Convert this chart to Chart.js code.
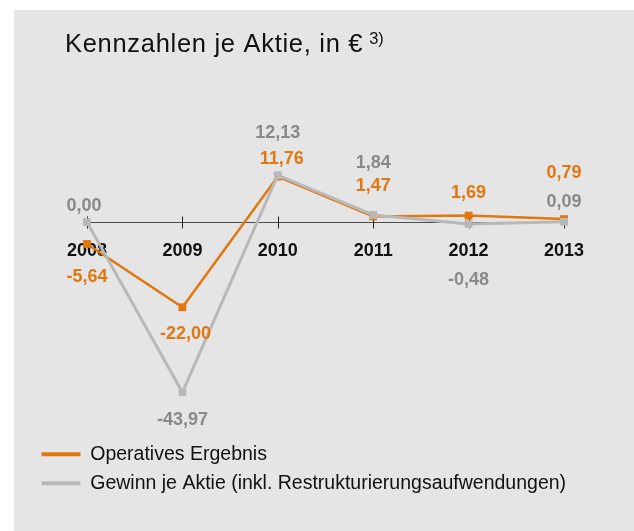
<!DOCTYPE html>
<html lang="de">
<head>
<meta charset="utf-8">
<title>Kennzahlen je Aktie</title>
<script src="https://cdn.jsdelivr.net/npm/chart.js@4.4.1/dist/chart.umd.min.js"></script>
<style>
    html, body { margin: 0; padding: 0; background: #fff; }
    #panel { position: absolute; left: 14px; top: 10px; width: 620px; height: 521px; background: #e5e5e5; }
</style>
</head>
<body>
<div id="panel"><canvas id="kennzahlen"></canvas></div>
<script>
    "use strict";
    const years = ["2008", "2009", "2010", "2011", "2012", "2013"];
    const operativesErgebnis = [-5.64, -22.00, 11.76, 1.47, 1.69, 0.79];
    const gewinnJeAktie = [0.00, -43.97, 12.13, 1.84, -0.48, 0.09];
    const seriesNames = ["Operatives Ergebnis", "Gewinn je Aktie (inkl. Restrukturierungsaufwendungen)"];

    const orange = "#e3770f";
    const grey = "#b8b8b8";
    const font = "'Liberation Sans', Arial, Helvetica, sans-serif";

    // label placement relative to the point (px), per series and year
    const labelOffsets = [
        [[0, 33], [3, 27], [4, -18], [0, -30], [0, -23], [0, -46]],
        [[-3, -16], [0, 28], [0, -42], [0, -52], [0, 56], [0, -20]]
    ];

    const fmt = v => v.toFixed(2).replace(".", ",");

    const zeroAxis = {
        id: "zeroAxis",
        beforeDatasetsDraw(chart) {
            let { ctx, scales: { x, y } } = chart;
            let y0 = Math.round(y.getPixelForValue(0)) + .5;
            ctx.save();
            ctx.strokeStyle = "#4a4a4a";
            ctx.lineWidth = 1.2;
            ctx.beginPath();
            ctx.moveTo(x.getPixelForValue(0), y0);
            ctx.lineTo(x.getPixelForValue(years.length - 1), y0);
            ctx.stroke();
            ctx.lineWidth = 1;
            ctx.strokeStyle = "#222";
            years.forEach((_, i) => {
                let px = Math.round(x.getPixelForValue(i)) + .5;
                ctx.beginPath();
                ctx.moveTo(px, y0 - 6);
                ctx.lineTo(px, y0 + 6);
                ctx.stroke();
            });
            ctx.restore();
        }
    };

    const valueLabels = {
        id: "valueLabels",
        afterDatasetsDraw(chart) {
            let ctx = chart.ctx;
            ctx.save();
            ctx.font = "bold 18px " + font;
            ctx.textAlign = "center";
            ctx.textBaseline = "middle";
            chart.data.datasets.forEach((ds, d) => {
                ctx.fillStyle = ds.labelColor;
                chart.getDatasetMeta(d).data.forEach((pt, i) => {
                    let [dx, dy] = labelOffsets[d][i];
                    ctx.fillText(fmt(ds.data[i]), pt.x + dx, pt.y + dy);
                });
            });
            ctx.restore();
        }
    };

    const titleText = {
        id: "titleText",
        afterDraw(chart) {
            let ctx = chart.ctx;
            ctx.save();
            ctx.fillStyle = "#111";
            ctx.textBaseline = "alphabetic";
            ctx.font = "25.5px " + font;
            ctx.letterSpacing = "0.7px";
            let main = "Kennzahlen je Aktie, in €";
            ctx.fillText(main, 51, 42);
            let w = ctx.measureText(main).width;
            ctx.font = "16.5px " + font;
            ctx.letterSpacing = "0px";
            ctx.fillText("3)", 51 + w + 6, 34);
            ctx.restore();
        }
    };

    new Chart(document.getElementById("kennzahlen"), {
        type: "line",
        data: {
            labels: years,
            datasets: [{
                label: seriesNames[0],
                data: operativesErgebnis,
                borderColor: orange,
                backgroundColor: orange,
                labelColor: orange,
                borderWidth: 2.5,
                pointStyle: "rect",
                pointRadius: 5.5,
                pointBorderWidth: 0,
                order: 2
            }, {
                label: seriesNames[1],
                data: gewinnJeAktie,
                borderColor: grey,
                backgroundColor: grey,
                labelColor: "#898989",
                borderWidth: 3,
                pointStyle: "rect",
                pointRadius: 5.5,
                pointBorderWidth: 0,
                order: 1
            }]
        },
        options: {
            responsive: true,
            maintainAspectRatio: false,
            animation: false,
            events: [],
            clip: false,
            layout: { padding: { top: 96, left: 18, right: 10, bottom: 28 } },
            scales: {
                x: {
                    position: { y: 0 },
                    z: 1,
                    grid: { display: false, drawTicks: false },
                    border: { display: false },
                    ticks: {
                        color: "#111",
                        font: { family: font, size: 18, weight: "bold" },
                        padding: 18,
                        maxRotation: 0,
                        autoSkip: false
                    }
                },
                y: {
                    min: -55,
                    max: 30,
                    grid: { display: false },
                    border: { display: false },
                    ticks: { display: false },
                    afterFit: scale => { scale.width = 55; }
                },
                // empty spacer on the right so the chart ends at 2013 while the legend keeps full width
                spacer: {
                    axis: "y",
                    position: "right",
                    grid: { display: false },
                    border: { display: false },
                    ticks: { display: false },
                    afterFit: scale => { scale.width = 60; }
                }
            },
            plugins: {
                tooltip: { enabled: false },
                legend: {
                    position: "bottom",
                    align: "start",
                    labels: {
                        color: "#111",
                        font: { family: font, size: 19.5 },
                        boxWidth: 39,
                        boxHeight: 4,
                        padding: 9.5,
                        sort: (a, b) => a.datasetIndex - b.datasetIndex,
                        generateLabels: chart => Chart.defaults.plugins.legend.labels.generateLabels(chart)
                            .map(item => Object.assign(item, { lineWidth: 0 }))
                    }
                }
            }
        },
        plugins: [zeroAxis, valueLabels, titleText]
    });
</script>
</body>
</html>
